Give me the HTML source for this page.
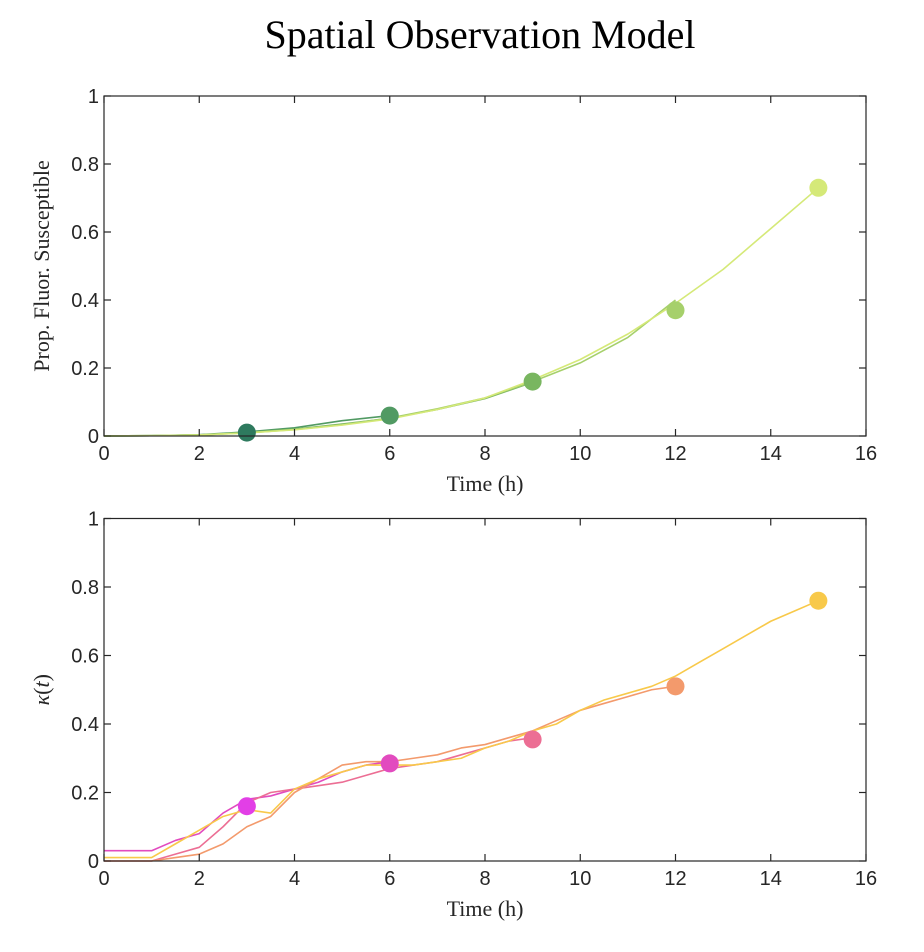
<!DOCTYPE html>
<html><head><meta charset="utf-8"><style>
body{margin:0;background:#fff}
svg{display:block}
.tk{font-family:"Liberation Sans",sans-serif;font-size:20px;fill:#262626}
.lb{font-family:"Liberation Serif",serif;font-size:22px;fill:#262626}
</style></head><body>
<svg id="chart" width="924" height="952">
<text x="480" y="48" text-anchor="middle" font-family="Liberation Serif,serif" font-size="40" fill="#000">Spatial Observation Model</text>
</svg>
<script>
const xTicks=[0,2,4,6,8,10,12,14,16];
const yTicks=[0,0.2,0.4,0.6,0.8,1];
const yTickLabels=["0","0.2","0.4","0.6","0.8","1"];
const topTimes=[0,1,2,3,4,5,6,7,8,9,10,11,12,13,14,15];
const topSeries1=[0,0.001,0.004,0.012,0.024,0.045,0.06];
const topSeries2=[0,0.001,0.003,0.01,0.02,0.035,0.052,0.078,0.11,0.158];
const topSeries3=[0,0.001,0.003,0.009,0.019,0.033,0.053,0.08,0.112,0.16,0.215,0.29,0.40];
const topSeries4=[0,0.001,0.003,0.009,0.018,0.032,0.05,0.078,0.112,0.165,0.225,0.3,0.39,0.49,0.61,0.73];
const topMarkerT=[3,6,9,12,15];
const topMarkerV=[0.01,0.06,0.16,0.37,0.73];
const topColors=["#2e7a5e","#519a63","#79b660","#a6d06b","#d5e978"];
const botTimes=[0,0.5,1,1.5,2,2.5,3,3.5,4,4.5,5,5.5,6,6.5,7,7.5,8,8.5,9,9.5,10,10.5,11,11.5,12,12.5,13,13.5,14,14.5,15];
const botSeries1=[0.03,0.03,0.03,0.06,0.08,0.14,0.18,0.19,0.21,0.23,0.26,0.28,0.29];
const botSeries2=[0,0,0,0.02,0.04,0.10,0.17,0.20,0.21,0.22,0.23,0.25,0.27,0.28,0.29,0.31,0.33,0.35,0.36];
const botSeries3=[0,0,0,0.01,0.02,0.05,0.10,0.13,0.20,0.24,0.28,0.29,0.29,0.30,0.31,0.33,0.34,0.36,0.38,0.41,0.44,0.46,0.48,0.50,0.51];
const botSeries4=[0.01,0.01,0.01,0.05,0.09,0.13,0.15,0.14,0.21,0.24,0.26,0.28,0.28,0.28,0.29,0.30,0.33,0.35,0.38,0.40,0.44,0.47,0.49,0.51,0.54,0.58,0.62,0.66,0.70,0.73,0.76];
const botMarkerT=[3,6,9,12,15];
const botMarkerV=[0.16,0.285,0.355,0.51,0.76];
const botColors=["#e23fe6","#e24bbf","#ec6e94","#f39a6c","#f8c94a"];

const NS="http://www.w3.org/2000/svg";
const svg=document.getElementById('chart');
function mk(t,a,p){const e=document.createElementNS(NS,t);for(const k in a)e.setAttribute(k,a[k]);(p||svg).appendChild(e);return e;}
function panel(name,top,bot,times,series,colors,mT,mV,ylabel){
  const L=104,R=866;
  const sx=v=>L+(v/16)*(R-L), sy=v=>bot-v*(bot-top);
  const g=mk('g',{});
  
  
  series.forEach((s,i)=>{
    let d='';
    s.forEach((v,j)=>{
      const x=sx(times[j]),y=sy(v);
      d+=(j===0?'M':'L')+x+','+y;
    });
    const p=mk('path',{d:d,fill:'none',stroke:colors[i+1],'stroke-width':1.6,'stroke-linejoin':'round'},g);
    
    
  });
  mT.forEach((t,i)=>{
    const c=mk('circle',{cx:sx(t),cy:sy(mV[i]),r:9,fill:colors[i]},g);
    
    
  });
  const box=mk('rect',{x:L,y:top,width:R-L,height:bot-top,fill:'none',stroke:'#262626','stroke-width':1.2},g);
  
  
  xTicks.forEach(v=>{
    const x=sx(v);
    mk('line',{x1:x,x2:x,y1:bot,y2:bot-7,stroke:'#262626','stroke-width':1.2},g);
    mk('line',{x1:x,x2:x,y1:top,y2:top+7,stroke:'#262626','stroke-width':1.2},g);
    const t=mk('text',{x:x,y:bot+24,'text-anchor':'middle',class:'tk'},g);t.textContent=v;
    
    
  });
  yTicks.forEach((v,i)=>{
    const y=sy(v);
    mk('line',{x1:L,x2:L+7,y1:y,y2:y,stroke:'#262626','stroke-width':1.2},g);
    mk('line',{x1:R,x2:R-7,y1:y,y2:y,stroke:'#262626','stroke-width':1.2},g);
    const t=mk('text',{x:L-5,y:y+7,'text-anchor':'end',class:'tk'},g);t.textContent=yTickLabels[i];
    
    
  });
  const xl=mk('text',{x:(L+R)/2,y:bot+55,'text-anchor':'middle',class:'lb'},g);xl.textContent='Time (h)';
  
  
  const yl=mk('text',{x:0,y:0,'text-anchor':'middle',class:'lb',transform:`translate(49,${(top+bot)/2}) rotate(-90)`},g);
  if(ylabel==='k'){yl.innerHTML='<tspan font-style="italic">κ</tspan>(<tspan font-style="italic">t</tspan>)';}
  else yl.textContent=ylabel;
  
  
}
panel('top-panel',96,436,topTimes,[topSeries1,topSeries2,topSeries3,topSeries4],topColors,topMarkerT,topMarkerV,'Prop. Fluor. Susceptible');
panel('bottom-panel',518.5,861,botTimes,[botSeries1,botSeries2,botSeries3,botSeries4],botColors,botMarkerT,botMarkerV,'k');
</script>
</body></html>
